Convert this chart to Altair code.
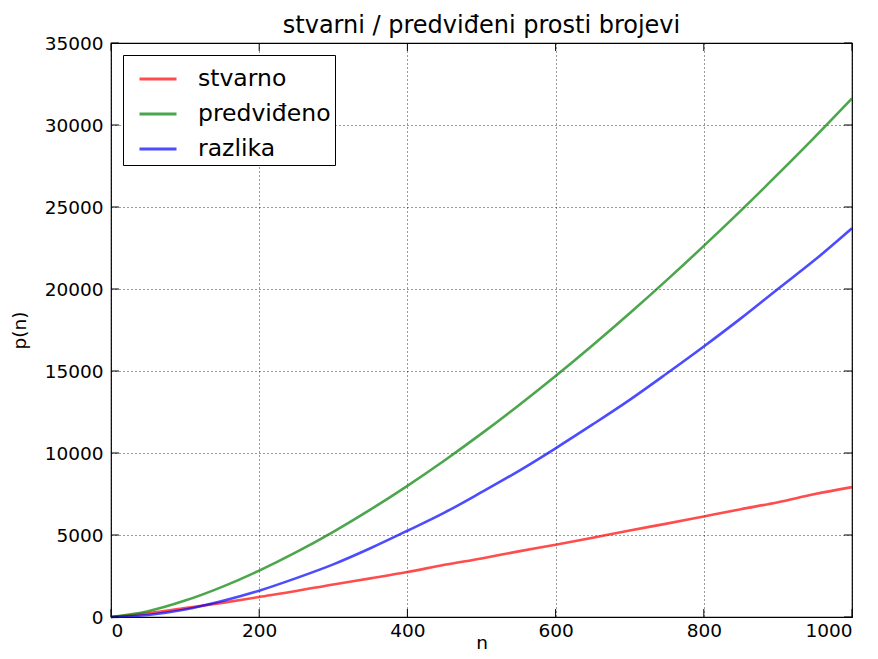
import altair as alt
import pandas as pd

n_vals = [0, 50, 100, 150, 200, 250, 300, 350, 400, 450, 500,
          550, 600, 650, 700, 750, 800, 850, 900, 950, 1000]
stvarno = [0, 229, 541, 863, 1223, 1583, 1987, 2357, 2741, 3181, 3571,
           4001, 4409, 4831, 5279, 5693, 6133, 6571, 6997, 7499, 7919]
predvideno = [0, 354, 1000, 1837, 2828, 3953, 5196, 6548, 8000, 9546, 11180,
              12899, 14697, 16573, 18520, 20540, 22627, 24779, 27000, 29277, 31623]
razlika = [0, 125, 459, 974, 1605, 2370, 3209, 4191, 5259, 6365, 7609,
           8898, 10288, 11742, 13241, 14847, 16494, 18208, 20003, 21778, 23704]

x_ticks = [0, 200, 400, 600, 800, 1000]
y_ticks = [0, 5000, 10000, 15000, 20000, 25000, 30000, 35000]

series_names = ["stvarno", "predviđeno", "razlika"]
series_colors = ["#ff0000", "#008000", "#0000ff"]

rows = []
for name, vals in zip(series_names, [stvarno, predvideno, razlika]):
    for n, v in zip(n_vals, vals):
        rows.append({"n": n, "p": v, "serija": name})
df = pd.DataFrame(rows)
xt = pd.DataFrame({"n": x_ticks})
yt = pd.DataFrame({"p": y_ticks})

FONT = "DejaVu Sans"
W, H = 741, 574
TL = 8

xscale = alt.Scale(domain=[0, 1000], nice=False)
yscale = alt.Scale(domain=[0, 35000], nice=False)

lines = alt.Chart(df).mark_line(strokeWidth=2.6, opacity=0.7, interpolate="monotone").encode(
    x=alt.X("n:Q", title="n", scale=xscale,
            axis=alt.Axis(values=x_ticks, format="d", titleY=31, titleBaseline="alphabetic")),
    y=alt.Y("p:Q", title="p(n)", scale=yscale,
            axis=alt.Axis(values=y_ticks, format="d", titleX=-86, titleY=H / 2,
                          titleAngle=270, titleBaseline="alphabetic", titleAlign="center")),
    color=alt.Color("serija:N", scale=alt.Scale(domain=series_names, range=series_colors),
                    sort=series_names,
                    legend=alt.Legend(title=None, orient="none", legendX=12, legendY=12,
                                      symbolType="stroke", symbolSize=1369,
                                      symbolStrokeWidth=3, symbolOpacity=0.7,
                                      symbolOffset=11,
                                      labelFontSize=23.5, labelFont=FONT, labelColor="black",
                                      rowPadding=3, padding=4, labelOffset=20,
                                      strokeColor="black", fillColor="white",
                                      cornerRadius=0)),
)

tick_style = dict(color="black", thickness=1, size=TL, opacity=1)
xt_bottom = alt.Chart(xt).mark_tick(orient="vertical", yOffset=-TL / 2, **tick_style).encode(
    x=alt.X("n:Q", scale=xscale), y=alt.value(H))
xt_top = alt.Chart(xt).mark_tick(orient="vertical", yOffset=TL / 2, **tick_style).encode(
    x=alt.X("n:Q", scale=xscale), y=alt.value(0))
yt_left = alt.Chart(yt).mark_tick(orient="horizontal", xOffset=TL / 2, **tick_style).encode(
    y=alt.Y("p:Q", scale=yscale), x=alt.value(0))
yt_right = alt.Chart(yt).mark_tick(orient="horizontal", xOffset=-TL / 2, **tick_style).encode(
    y=alt.Y("p:Q", scale=yscale), x=alt.value(W))

chart = alt.layer(lines, xt_bottom, xt_top, yt_left, yt_right).properties(
    width=W, height=H,
    title=alt.Title("stvarni / predviđeni prosti brojevi", fontSize=24, font=FONT,
                    fontWeight="normal", color="black", offset=-4, frame="group"),
    autosize=alt.AutoSizeParams(type="none"),
    padding={"left": 103, "top": 35, "right": 18, "bottom": 34},
).configure_axis(
    labelFont=FONT, labelFontSize=18.5, labelColor="black",
    titleFont=FONT, titleFontSize=18.5, titleFontWeight="normal", titleColor="black",
    grid=True, gridColor="black", gridDash=[1, 3], gridWidth=0.8, gridOpacity=1,
    domain=False, ticks=False,
).configure_axisX(labelPadding=4).configure_axisY(labelPadding=8).configure_view(
    stroke="black", strokeWidth=1.2
)

chart.save("out.html", embed_options={"renderer": "svg", "actions": False})
